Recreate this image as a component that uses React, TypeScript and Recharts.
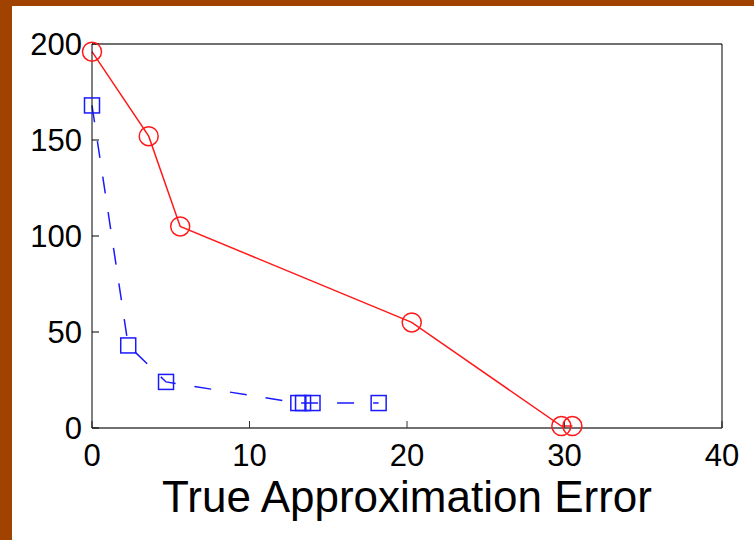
import { ComposedChart, Line, XAxis, YAxis } from "recharts";

// red series (circles, solid)
const redErr = [0, 3.6, 5.6, 20.3, 29.8, 30.5];
const redVal = [196, 152, 105, 55, 1, 1];

// blue series (squares, dashed)
const blueErr = [0, 2.3, 4.7, 13.1, 13.4, 14.0, 18.2];
const blueVal = [168, 43, 24, 13, 13, 13, 13];

const xTicks = [0, 10, 20, 30, 40];
const yTicks = [0, 50, 100, 150, 200];

const redData = redErr.map((x, i) => ({ x, y: redVal[i] }));
const blueData = blueErr.map((x, i) => ({ x, y: blueVal[i] }));

const FONT = "'Liberation Sans', Arial, sans-serif";
const tickStyle = { fontSize: 31, fill: "#000", fontFamily: FONT };

const CircleDot = (p: any) => (
  <circle
    key={`c-${p.index}`}
    cx={p.cx}
    cy={p.cy}
    r={9.5}
    fill="none"
    stroke="#ff1a1a"
    strokeWidth={1.5}
  />
);

const SquareDot = (p: any) => (
  <rect
    key={`s-${p.index}`}
    x={p.cx - 7.5}
    y={p.cy - 7.5}
    width={15}
    height={15}
    fill="none"
    stroke="#1a1aff"
    strokeWidth={1.5}
  />
);

export default function App() {
  return (
    <div
      style={{
        position: "absolute",
        left: 0,
        top: 0,
        width: 754,
        height: 540,
        background: "#a14300",
        overflow: "hidden",
      }}
    >
      <div
        style={{
          position: "absolute",
          left: 12,
          top: 6,
          width: 742,
          height: 534,
          background: "#ffffff",
        }}
      />
      <div style={{ position: "absolute", left: 0, top: 0 }}>
        <ComposedChart
          width={754}
          height={540}
          margin={{ top: 0, right: 0, bottom: 0, left: 0 }}
        >
          <XAxis
            xAxisId="b"
            dataKey="x"
            type="number"
            domain={[0, 40]}
            ticks={xTicks}
            height={112}
            tickSize={-7}
            tickMargin={23}
            tick={tickStyle}
            axisLine={{ stroke: "#707070", strokeWidth: 2 }}
            tickLine={{ stroke: "#333" }}
            label={{
              value: "True Approximation Error",
              position: "insideBottom",
              offset: 28,
              style: { fontSize: 44, fill: "#000", fontFamily: FONT },
            }}
          />
          <XAxis
            xAxisId="t"
            orientation="top"
            dataKey="x"
            type="number"
            domain={[0, 40]}
            ticks={xTicks}
            height={44}
            tickSize={-7}
            tick={false}
            axisLine={{ stroke: "#707070", strokeWidth: 2 }}
            tickLine={{ stroke: "#333" }}
          />
          <YAxis
            yAxisId="l"
            type="number"
            domain={[0, 200]}
            ticks={yTicks}
            width={92}
            tickSize={-7}
            tickMargin={17}
            tick={tickStyle}
            axisLine={{ stroke: "#000", strokeWidth: 1 }}
            tickLine={{ stroke: "#000" }}
          />
          <YAxis
            yAxisId="r"
            orientation="right"
            type="number"
            domain={[0, 200]}
            ticks={yTicks}
            width={32}
            tickSize={-7}
            tick={false}
            axisLine={{ stroke: "#000", strokeWidth: 1 }}
            tickLine={{ stroke: "#555" }}
          />
          <Line
            xAxisId="b"
            yAxisId="l"
            data={blueData}
            dataKey="y"
            type="linear"
            stroke="#1a1aff"
            strokeWidth={1.5}
            strokeDasharray="17 19"
            dot={SquareDot}
            activeDot={false}
            isAnimationActive={false}
          />
          <Line
            xAxisId="b"
            yAxisId="l"
            data={redData}
            dataKey="y"
            type="linear"
            stroke="#ff1a1a"
            strokeWidth={1.5}
            dot={CircleDot}
            activeDot={false}
            isAnimationActive={false}
          />
        </ComposedChart>
      </div>
    </div>
  );
}
